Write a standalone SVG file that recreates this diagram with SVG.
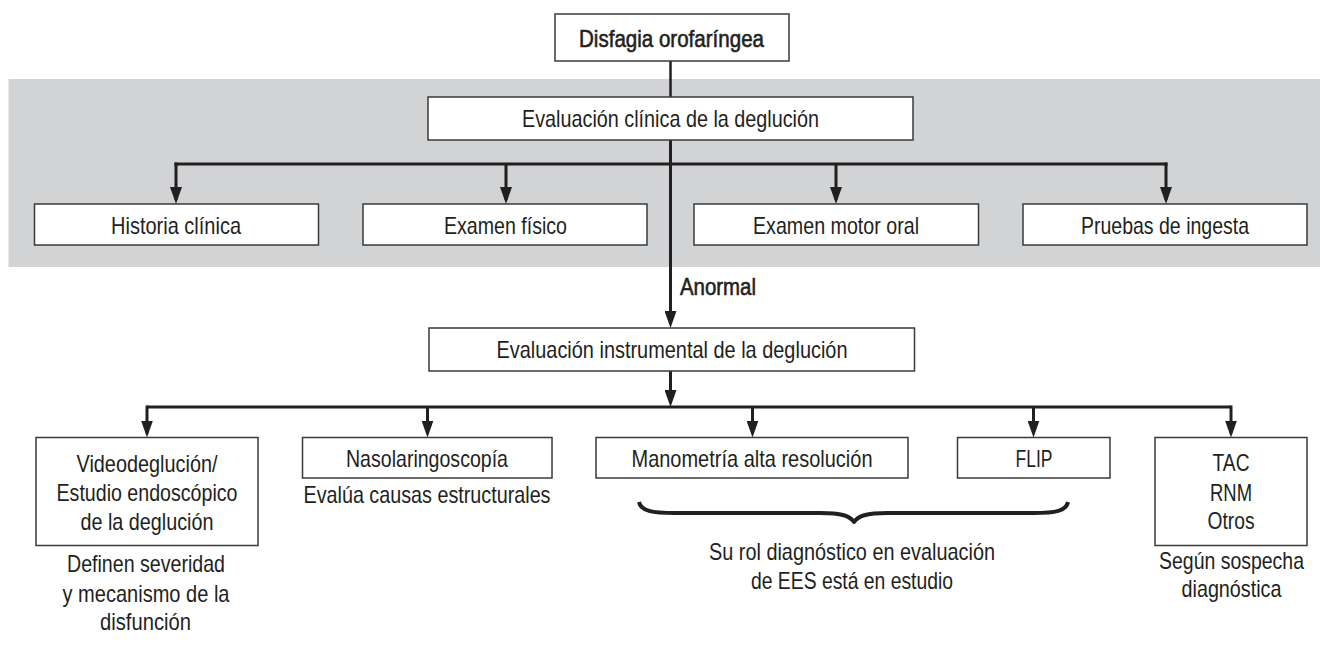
<svg xmlns="http://www.w3.org/2000/svg" width="1320" height="651" viewBox="0 0 1320 651">
<style>
.box{fill:#ffffff;stroke:#3a3a3a;stroke-width:1.5}
.t{font-family:"Liberation Sans",Arial,sans-serif;font-size:24px;fill:#231f20;text-anchor:middle}
.b{stroke:#231f20;stroke-width:0.6}
.c{fill:none;stroke:#231f20;stroke-width:3}
.c2{fill:none;stroke:#231f20;stroke-width:2.5}
</style>
<defs>
<marker id="ah" viewBox="0 0 17 12" refX="13" refY="6" markerWidth="17" markerHeight="12" markerUnits="userSpaceOnUse" orient="auto">
<path d="M0,0 L17,6 L0,12 z" fill="#231f20"/>
</marker>
</defs>
<rect id="band" x="8.5" y="79" width="1311.5" height="188" fill="#d1d3d4"/>
<g id="connectors">
<line class="c2" x1="670.5" y1="61" x2="670.5" y2="97"/>
<line class="c" x1="670.5" y1="140" x2="670.5" y2="324" marker-end="url(#ah)"/>
<polyline class="c" points="176,166 176,164 1166,164 1166,166"/>
<line class="c" x1="176" y1="162.5" x2="176" y2="200" marker-end="url(#ah)"/>
<line class="c" x1="506" y1="164" x2="506" y2="200" marker-end="url(#ah)"/>
<line class="c" x1="836" y1="164" x2="836" y2="200" marker-end="url(#ah)"/>
<line class="c" x1="1166" y1="162.5" x2="1166" y2="200" marker-end="url(#ah)"/>
<line class="c" x1="670.5" y1="371" x2="670.5" y2="403" marker-end="url(#ah)"/>
<polyline class="c" points="147,407 1231,407"/>
<line class="c" x1="147" y1="405.5" x2="147" y2="433.5" marker-end="url(#ah)"/>
<line class="c" x1="427.5" y1="407" x2="427.5" y2="433.5" marker-end="url(#ah)"/>
<line class="c" x1="752.5" y1="407" x2="752.5" y2="433.5" marker-end="url(#ah)"/>
<line class="c" x1="1033.5" y1="407" x2="1033.5" y2="433.5" marker-end="url(#ah)"/>
<line class="c" x1="1231" y1="405.5" x2="1231" y2="433.5" marker-end="url(#ah)"/>
<text class="t b" x="680" y="295" style="text-anchor:start" textLength="76" lengthAdjust="spacingAndGlyphs">Anormal</text>
</g>
<g id="n-disfagia">
<rect class="box" x="555" y="14" width="234" height="47"/>
<text class="t b" x="671.5" y="46.5" textLength="185" lengthAdjust="spacingAndGlyphs">Disfagia orofaríngea</text>
</g>
<g id="n-clinica">
<rect class="box" x="428" y="97" width="485" height="43"/>
<text class="t" x="670.5" y="127" textLength="297" lengthAdjust="spacingAndGlyphs">Evaluación clínica de la deglución</text>
</g>
<g id="n-historia">
<rect class="box" x="34.5" y="204" width="284" height="41"/>
<text class="t" x="176" y="233.5" textLength="130" lengthAdjust="spacingAndGlyphs">Historia clínica</text>
</g>
<g id="n-fisico">
<rect class="box" x="363" y="204" width="284" height="41"/>
<text class="t" x="505.5" y="233.5" textLength="123" lengthAdjust="spacingAndGlyphs">Examen físico</text>
</g>
<g id="n-motor">
<rect class="box" x="694" y="204" width="284.5" height="41"/>
<text class="t" x="836" y="233.5" textLength="166" lengthAdjust="spacingAndGlyphs">Examen motor oral</text>
</g>
<g id="n-pruebas">
<rect class="box" x="1023" y="204" width="284" height="41"/>
<text class="t" x="1165" y="233.5" textLength="168" lengthAdjust="spacingAndGlyphs">Pruebas de ingesta</text>
</g>
<g id="n-instrumental">
<rect class="box" x="429" y="328" width="485.5" height="43"/>
<text class="t" x="672" y="358" textLength="351" lengthAdjust="spacingAndGlyphs">Evaluación instrumental de la deglución</text>
</g>
<g id="n-video">
<rect class="box" x="36" y="437.5" width="222" height="108"/>
<text class="t" x="147" y="471.5" textLength="141" lengthAdjust="spacingAndGlyphs">Videodeglución/</text>
<text class="t" x="147" y="501" textLength="181" lengthAdjust="spacingAndGlyphs">Estudio endoscópico</text>
<text class="t" x="147" y="530" textLength="133" lengthAdjust="spacingAndGlyphs">de la deglución</text>
<text class="t" x="146" y="572" textLength="158" lengthAdjust="spacingAndGlyphs">Definen severidad</text>
<text class="t" x="146" y="601.5" textLength="167" lengthAdjust="spacingAndGlyphs">y mecanismo de la</text>
<text class="t" x="145.5" y="630" textLength="91" lengthAdjust="spacingAndGlyphs">disfunción</text>
</g>
<g id="n-naso">
<rect class="box" x="302.5" y="437.5" width="249.5" height="40.5"/>
<text class="t" x="427" y="466.5" textLength="162" lengthAdjust="spacingAndGlyphs">Nasolaringoscopía</text>
<text class="t" x="427" y="503" textLength="247" lengthAdjust="spacingAndGlyphs">Evalúa causas estructurales</text>
</g>
<g id="n-manometria">
<rect class="box" x="596" y="437.5" width="312" height="40.5"/>
<text class="t" x="752" y="466.5" textLength="241" lengthAdjust="spacingAndGlyphs">Manometría alta resolución</text>
</g>
<g id="n-flip">
<rect class="box" x="957.5" y="437.5" width="152.5" height="40.5"/>
<text class="t" x="1034" y="466.5" textLength="37" lengthAdjust="spacingAndGlyphs">FLIP</text>
</g>
<g id="n-brace">
<path d="M639,502 C641,511 652,513 675,513 L820,513 C842,513 850,516 854,522 C858,516 866,513 888,513 L1033,513 C1056,513 1066,511 1068,502" fill="none" stroke="#231f20" stroke-width="4" stroke-linejoin="round"/>
<text class="t" x="852" y="560" textLength="286" lengthAdjust="spacingAndGlyphs">Su rol diagnóstico en evaluación</text>
<text class="t" x="852" y="589" textLength="202" lengthAdjust="spacingAndGlyphs">de EES está en estudio</text>
</g>
<g id="n-tac">
<rect class="box" x="1155" y="437.5" width="152" height="108"/>
<text class="t" x="1231" y="471" textLength="37" lengthAdjust="spacingAndGlyphs">TAC</text>
<text class="t" x="1231" y="500.5" textLength="42" lengthAdjust="spacingAndGlyphs">RNM</text>
<text class="t" x="1231" y="529" textLength="47" lengthAdjust="spacingAndGlyphs">Otros</text>
<text class="t" x="1231.5" y="569" textLength="145" lengthAdjust="spacingAndGlyphs">Según sospecha</text>
<text class="t" x="1231.5" y="597" textLength="100" lengthAdjust="spacingAndGlyphs">diagnóstica</text>
</g>
</svg>
